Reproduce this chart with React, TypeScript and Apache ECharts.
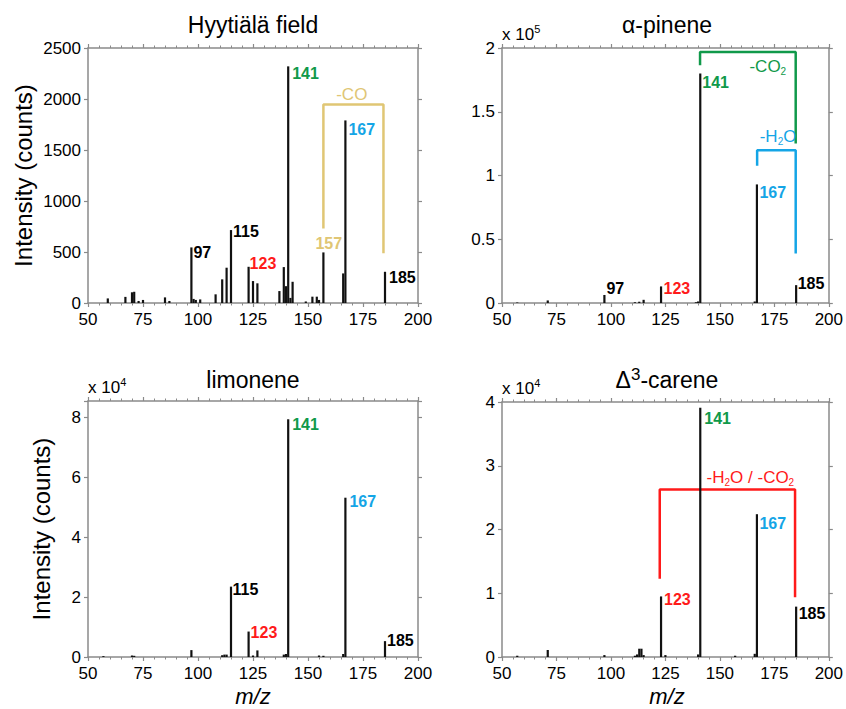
import React, { useEffect, useRef } from 'react';
import * as echarts from 'echarts';

// ---------- data ----------
const xTicks = [50, 75, 100, 125, 150, 175, 200];

const hyyMz = [59, 67, 70, 71, 73, 75, 85, 87, 97, 98, 99, 101, 108, 111, 113, 115, 123, 125, 127, 137, 139, 140, 141, 142, 143, 149, 152, 154, 155, 157, 166, 167, 185];
const hyyInt = [45, 60, 105, 110, 20, 30, 55, 20, 545, 40, 30, 35, 85, 232, 346, 715, 355, 215, 193, 117, 352, 165, 2320, 50, 208, 15, 62, 62, 30, 496, 290, 1790, 306];

const pinMz = [57, 71, 97, 111, 113, 115, 123, 139, 140, 141, 166, 167, 185];
const pinInt = [0.004, 0.02, 0.063, 0.006, 0.01, 0.025, 0.13, 0.006, 0.012, 1.8, 0.012, 0.93, 0.14];

const limMz = [57, 70, 71, 97, 111, 112, 113, 115, 123, 125, 127, 139, 140, 141, 155, 157, 166, 167, 185];
const limInt = [0.03, 0.05, 0.04, 0.23, 0.06, 0.08, 0.08, 2.35, 0.85, 0.05, 0.22, 0.08, 0.1, 7.94, 0.05, 0.04, 0.1, 5.32, 0.53];

const carMz = [57, 71, 97, 111, 112, 113, 114, 115, 123, 125, 140, 141, 157, 166, 167, 185];
const carInt = [0.02, 0.11, 0.03, 0.02, 0.04, 0.13, 0.13, 0.03, 0.95, 0.03, 0.04, 3.91, 0.02, 0.05, 2.24, 0.79];

const yMaxes = [2500, 2, 8.55, 4];
const yIntervals = [500, 0.5, 2, 1];
const titles = ['Hyytiälä field', 'α-pinene', 'limonene', 'Δ3-carene'];
const multipliers = ['', '5', '4', '4'];

const hyyPeaks = [
  { mz: 97, text: '97', c: 'k' }, { mz: 115, text: '115', c: 'k' }, { mz: 123, text: '123', c: 'r' },
  { mz: 141, text: '141', c: 'g' }, { mz: 157, text: '157', c: 'y' }, { mz: 167, text: '167', c: 'b' },
  { mz: 185, text: '185', c: 'k' },
];
const pinPeaks = [
  { mz: 97, text: '97', c: 'k' }, { mz: 123, text: '123', c: 'r' }, { mz: 141, text: '141', c: 'g' },
  { mz: 167, text: '167', c: 'b' }, { mz: 185, text: '185', c: 'k' },
];
const limPeaks = [
  { mz: 115, text: '115', c: 'k' }, { mz: 123, text: '123', c: 'r' }, { mz: 141, text: '141', c: 'g' },
  { mz: 167, text: '167', c: 'b' }, { mz: 185, text: '185', c: 'k' },
];
const carPeaks = [
  { mz: 123, text: '123', c: 'r' }, { mz: 141, text: '141', c: 'g' },
  { mz: 167, text: '167', c: 'b' }, { mz: 185, text: '185', c: 'k' },
];

// brackets: [panel, colour, points]
const brackets = [
  { panel: 0, c: 'y', pts: [[157, 731], [157, 1945], [184.3, 1945], [184.3, 487]] },
  { panel: 1, c: 'g', pts: [[140.9, 1.864], [140.9, 1.969], [184.8, 1.969], [184.8, 1.251]] },
  { panel: 1, c: 'b', pts: [[167.1, 1.076], [167.1, 1.199], [184.8, 1.199], [184.8, 0.389]] },
  { panel: 3, c: 'r', pts: [[122.4, 1.226], [122.4, 2.626], [184.5, 2.626], [184.5, 0.939]] },
];
const bracketTexts = [
  { panel: 0, c: 'y', at: [169.9, 2043], text: '{n|-CO}' },
  { panel: 1, c: 'g', at: [172.0, 1.851], text: '{n|-CO}{s|2}' },
  { panel: 1, c: 'b', at: [176.7, 1.303], text: '{n|-H}{s|2}{n|O}' },
  { panel: 3, c: 'r', at: [164.0, 2.81], text: '{n|-H}{s|2}{n|O / -CO}{s|2}' },
];

// ---------- styles ----------
const COLORS: Record<string, string> = {
  k: '#000000', r: '#ff1a1a', g: '#10994a', b: '#14a5e6', y: '#e0c674',
};
const FONT = '"Liberation Sans", Arial, Helvetica, sans-serif';
const AXIS_GRAY = '#8a8a8a';

const gridBoxes = [
  { left: 88, top: 48, width: 330, height: 255 },
  { left: 502, top: 48, width: 330, height: 255 },
  { left: 88, top: 401, width: 330, height: 256 },
  { left: 502, top: 402, width: 330, height: 255 },
];

// label offsets [dx, dy] relative to bar top (style only)
const labelOffsets: Record<string, [number, number]> = {
  '0-97': [1, 5], '0-115': [1, 1], '0-123': [0, -3], '0-141': [3, 7], '0-157': [-9, -9], '0-167': [2, 9], '0-185': [3, 6],
  '1-97': [1, -6], '1-123': [1.5, 2], '1-141': [1, 9], '1-167': [1.5, 8], '1-185': [0.5, -2],
  '2-115': [0.5, 3], '2-123': [1, 1], '2-141': [3, 5], '2-167': [3, 4], '2-185': [1, -1],
  '3-123': [2, 3], '3-141': [3, 11], '3-167': [1.5, 9], '3-185': [1.5, 7],
};

const spectra = [
  { mz: hyyMz, v: hyyInt, peaks: hyyPeaks },
  { mz: pinMz, v: pinInt, peaks: pinPeaks },
  { mz: limMz, v: limInt, peaks: limPeaks },
  { mz: carMz, v: carInt, peaks: carPeaks },
];

function buildOption() {
  const grid: any[] = [];
  const xAxis: any[] = [];
  const yAxis: any[] = [];
  const series: any[] = [];
  const graphic: any[] = [];

  gridBoxes.forEach((g, i) => {
    grid.push({ ...g, containLabel: false });
    const line = { show: true, onZero: false, lineStyle: { color: AXIS_GRAY, width: 1.5 } };
    const xBase = {
      type: 'value', gridIndex: i, min: xTicks[0], max: xTicks[xTicks.length - 1],
      interval: xTicks[1] - xTicks[0], axisLine: line, splitLine: { show: false },
      axisTick: { show: true, length: 4, lineStyle: { color: AXIS_GRAY, width: 1.2 } },
      minorTick: { show: true, splitNumber: 5, length: 2.5, lineStyle: { color: AXIS_GRAY, width: 1 } },
    };
    xAxis.push({
      ...xBase, position: 'bottom',
      axisLabel: { show: true, fontSize: 17, color: '#000', fontFamily: FONT, margin: 8, lineHeight: 17 },
    });
    xAxis.push({ ...xBase, position: 'top', axisLabel: { show: false } });
    const iv = yIntervals[i];
    const yBase = {
      type: 'value', gridIndex: i, min: 0, max: yMaxes[i], interval: iv,
      axisLine: line, splitLine: { show: false },
      axisTick: { show: true, length: 4, lineStyle: { color: AXIS_GRAY, width: 1.2 } },
    };
    yAxis.push({
      ...yBase, position: 'left',
      axisLabel: {
        show: true, fontSize: 17, color: '#000', fontFamily: FONT, margin: 7,
        formatter: (val: number) => {
          const r = val / iv;
          return Math.abs(r - Math.round(r)) < 1e-6 ? String(+val.toFixed(3)) : '';
        },
      },
    });
    yAxis.push({ ...yBase, position: 'right', axisLabel: { show: false } });

    const sp = spectra[i];
    // bracket lines
    brackets.filter(b => b.panel === i).forEach(b => {
      series.push({
        type: 'line', xAxisIndex: 2 * i, yAxisIndex: 2 * i, data: b.pts, symbol: 'none',
        silent: true, z: 1, lineStyle: { color: COLORS[b.c], width: 2.5 },
      });
    });
    // bars
    series.push({
      type: 'bar', xAxisIndex: 2 * i, yAxisIndex: 2 * i, barWidth: 2.2, silent: true, z: 3,
      itemStyle: { color: '#111' },
      data: sp.mz.map((m, j) => [m, sp.v[j]]),
    });
    // peak labels
    series.push({
      type: 'scatter', xAxisIndex: 2 * i, yAxisIndex: 2 * i, symbolSize: 0, silent: true, z: 4,
      itemStyle: { opacity: 1 },
      data: sp.peaks.map(p => {
        const idx = sp.mz.indexOf(p.mz);
        const off = labelOffsets[`${i}-${p.mz}`] || [1, 0];
        return {
          value: [p.mz, sp.v[idx]],
          label: {
            show: true, formatter: p.text, position: 'right', distance: 0, opacity: 1,
            offset: [off[0] + 1, off[1]], color: COLORS[p.c], fontSize: 16, fontWeight: 'bold',
            fontFamily: FONT,
          },
        };
      }),
    });
    // bracket texts
    const bts = bracketTexts.filter(b => b.panel === i);
    if (bts.length) {
      series.push({
        type: 'scatter', xAxisIndex: 2 * i, yAxisIndex: 2 * i, symbolSize: 0, silent: true, z: 4,
        itemStyle: { opacity: 1 },
        data: bts.map(b => ({
          value: b.at,
          label: {
            show: true, position: 'inside', formatter: b.text, opacity: 1,
            rich: {
              n: { fontSize: 17, color: COLORS[b.c], fontFamily: FONT, lineHeight: 20 },
              s: { fontSize: 10, color: COLORS[b.c], fontFamily: FONT, lineHeight: 10, verticalAlign: 'bottom' },
            },
          },
        })),
      });
    }

    // title
    const cx = g.left + g.width / 2;
    const ty = i < 2 ? 25 : 380;
    const t = titles[i];
    const titleText = t.startsWith('Δ3') ? '{n|Δ}{s|3}{n|' + t.slice(2) + '}' : '{n|' + t + '}';
    graphic.push({
      type: 'text', x: cx, y: ty, silent: true,
      style: {
        text: titleText, align: 'center', verticalAlign: 'middle',
        rich: {
          n: { fontSize: 23, fill: '#000', fontFamily: FONT, lineHeight: 28 },
          s: { fontSize: 17, fill: '#000', fontFamily: FONT, lineHeight: 17, verticalAlign: 'top' },
        },
      },
    });
    if (multipliers[i]) {
      graphic.push({
        type: 'text', x: g.left, y: g.top - 14, silent: true,
        style: {
          text: '{n|x 10}{s|' + multipliers[i] + '}', align: 'left', verticalAlign: 'middle',
          rich: {
            n: { fontSize: 17, fill: '#000', fontFamily: FONT, lineHeight: 22 },
            s: { fontSize: 11, fill: '#000', fontFamily: FONT, lineHeight: 11, verticalAlign: 'top' },
          },
        },
      });
    }
  });

  // axis names
  graphic.push({
    type: 'text', x: 23.5, y: 175.5, rotation: Math.PI / 2, silent: true,
    style: { text: 'Intensity (counts)', fill: '#000', fontSize: 24, fontFamily: FONT, align: 'center', verticalAlign: 'middle' },
  });
  graphic.push({
    type: 'text', x: 41, y: 529, rotation: Math.PI / 2, silent: true,
    style: { text: 'Intensity (counts)', fill: '#000', fontSize: 24, fontFamily: FONT, align: 'center', verticalAlign: 'middle' },
  });
  [253, 667].forEach(x => {
    graphic.push({
      type: 'text', x, y: 696, silent: true,
      style: { text: 'm/z', fill: '#000', fontSize: 22, lineHeight: 20, fontStyle: 'italic', fontFamily: FONT, align: 'center', verticalAlign: 'middle' },
    });
  });

  return {
    animation: false,
    backgroundColor: '#ffffff',
    grid, xAxis, yAxis, series, graphic,
  };
}

export default function App() {
  const ref = useRef<HTMLDivElement>(null);
  useEffect(() => {
    if (!ref.current) return;
    const chart = echarts.init(ref.current, undefined, { renderer: 'svg' });
    chart.setOption(buildOption() as any);
    return () => chart.dispose();
  }, []);
  return (
    <div
      ref={ref}
      style={{ position: 'fixed', left: 0, top: 0, width: 846, height: 709, background: '#fff' }}
    />
  );
}
